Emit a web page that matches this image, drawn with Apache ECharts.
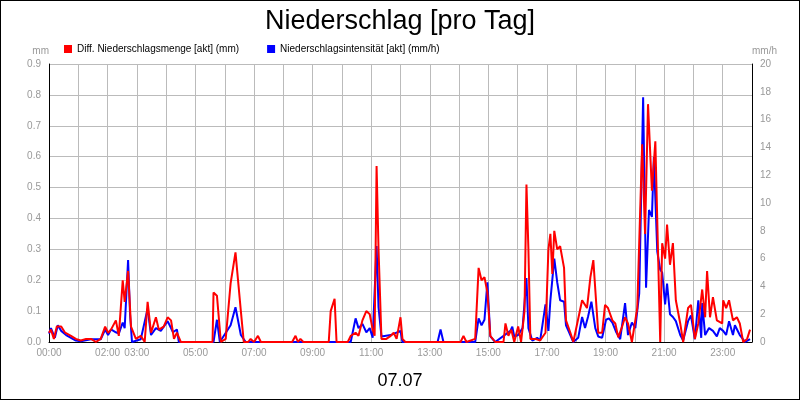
<!DOCTYPE html>
<html><head><meta charset="utf-8">
<script src="https://cdn.jsdelivr.net/npm/echarts@6/dist/echarts.min.js"></script>
<style>html,body{margin:0;padding:0;}#c{width:798px;height:398px;border:1px solid #000;background:#fff;}</style>
</head><body><div id="c"></div>
<script>
// x = minutes of day
const labelHours = [0,2,3,5,7,9,11,13,15,17,19,21,23];
const dateLabel = "07.07";
const redSeries = [[0,0.03],[4,0.04],[10,0.01],[16,0.05],[25,0.05],[33,0.03],[45,0.02],[55,0.01],[65,0.005],[76,0.01],[86,0.01],[96,0],[106,0.01],[115,0.05],[121,0.03],[127,0.04],[137,0.07],[143,0.02],[151,0.2],[155,0.13],[162,0.23],[168,0.05],[178,0.01],[188,0.02],[196,0],[202,0.13],[209,0.03],[219,0.08],[225,0.04],[235,0.05],[243,0.08],[250,0.07],[256,0.01],[262,0.03],[270,0],[335,0],[337,0.16],[344,0.15],[352,0],[362,0.01],[372,0.19],[382,0.29],[393,0.1],[399,0],[408,0],[413,0.01],[420,0],[424,0],[428,0.02],[434,0],[498,0],[505,0.02],[510,0],[515,0.01],[521,0],[573,0],[577,0.1],[585,0.14],[589,0],[612,0],[618,0.02],[628,0.03],[634,0.02],[642,0.07],[650,0.1],[657,0.09],[663,0.04],[667,0.02],[671,0.57],[675,0.3],[681,0.01],[691,0.01],[700,0.02],[706,0.03],[712,0.01],[720,0.08],[724,0.01],[730,0],[843,0],[849,0.02],[855,0],[873,0.01],[880,0.24],[886,0.2],[892,0.21],[898,0.16],[904,0.02],[914,0],[931,0],[935,0.06],[941,0.02],[947,0.04],[953,0],[961,0.05],[967,0],[974,0.1],[978,0.51],[982,0.3],[986,0.01],[996,0.01],[1006,0.005],[1017,0.03],[1023,0.3],[1027,0.35],[1031,0.22],[1035,0.36],[1041,0.3],[1047,0.31],[1055,0.24],[1059,0.07],[1068,0.03],[1074,0],[1092,0.135],[1102,0.11],[1109,0.21],[1115,0.265],[1119,0.17],[1125,0.03],[1133,0.03],[1139,0.12],[1145,0.11],[1154,0.07],[1160,0.06],[1166,0.015],[1174,0.05],[1180,0.08],[1186,0.06],[1194,0],[1205,0.11],[1215,0.64],[1221,0.35],[1227,0.77],[1235,0.49],[1242,0.65],[1252,0],[1256,0.32],[1262,0.27],[1266,0.38],[1272,0.25],[1278,0.32],[1284,0.135],[1293,0.06],[1299,0],[1309,0.11],[1315,0.12],[1323,0.01],[1330,0.06],[1338,0.17],[1344,0.08],[1348,0.23],[1354,0.08],[1360,0.145],[1368,0.07],[1379,0.06],[1381,0.135],[1387,0.11],[1393,0.135],[1401,0.07],[1409,0.08],[1415,0.06],[1422,0],[1430,0.01],[1436,0.04]];
const blueSeries = [[0,0.6],[4,1.0],[12,0.3],[18,1.2],[25,0.8],[35,0.5],[45,0.3],[55,0.1],[65,0.05],[86,0.2],[106,0.2],[115,0.9],[121,0.5],[127,0.9],[137,0.7],[143,0.6],[151,1.4],[155,1.0],[162,5.9],[166,2.0],[170,0],[188,0.2],[202,2.4],[209,0.5],[219,1.0],[229,0.8],[243,1.5],[254,0.7],[262,0.9],[266,0],[337,0],[344,1.6],[350,0],[372,1.2],[382,2.5],[393,0.5],[403,0],[618,0],[628,1.7],[634,1.0],[642,1.3],[650,0.7],[657,1.0],[663,0.3],[671,6.9],[675,2.5],[681,0.4],[700,0.5],[720,0.8],[724,0],[796,0],[802,0.9],[808,0],[873,0],[880,1.7],[886,1.2],[892,1.6],[898,4.3],[904,0.4],[914,0],[945,0.8],[949,1.1],[953,0.4],[961,0.5],[970,1.0],[978,4.6],[982,1.0],[990,0.1],[1000,0.3],[1006,0.1],[1017,2.7],[1023,0.8],[1027,3.0],[1035,6.0],[1041,4.3],[1047,3.0],[1055,2.9],[1059,1.2],[1064,0.8],[1074,0],[1084,0.3],[1092,1.8],[1098,1.0],[1104,1.8],[1111,2.9],[1119,1.0],[1125,0.4],[1133,0.3],[1141,1.6],[1147,1.7],[1154,1.4],[1162,0.7],[1170,0.2],[1180,2.8],[1186,0.5],[1194,1.4],[1201,1.0],[1209,3.5],[1217,17.6],[1223,3.9],[1229,9.5],[1235,9.0],[1239,13.3],[1246,6.5],[1252,5.2],[1256,5.0],[1262,2.7],[1266,4.2],[1272,2.0],[1278,1.8],[1284,1.5],[1293,0.5],[1299,0.1],[1309,1.5],[1315,1.9],[1323,0.2],[1330,3.0],[1336,0.3],[1338,2.8],[1344,0.5],[1352,1.0],[1360,0.8],[1368,0.4],[1374,1.0],[1381,0.8],[1387,0.5],[1393,1.5],[1401,0.5],[1405,1.2],[1415,0.5],[1426,0],[1436,0.2]];

const ch = echarts.init(document.getElementById('c'));
const F = 'Liberation Sans, Arial, sans-serif';
const grid = '#bbbbbb';
ch.setOption({
  animation:false,
  textStyle:{fontFamily:F},
  title:[{text:'Niederschlag [pro Tag]',left:'center',top:2,textStyle:{fontSize:27,fontWeight:'normal',color:'#000',fontFamily:F}},
         {text:dateLabel,left:'center',top:366,textStyle:{fontSize:18,fontWeight:'normal',color:'#000',fontFamily:F}}],
  legend:{left:58,top:38,itemWidth:8,itemHeight:8,itemGap:28,icon:'rect',textStyle:{fontSize:10,color:'#000'},
    data:['Diff. Niederschlagsmenge [akt] (mm)','Niederschlagsintensität [akt] (mm/h)']},
  grid:{left:48,right:47,top:63,bottom:57},
  xAxis:{type:'value',min:0,max:1440,interval:60,
    axisLine:{lineStyle:{color:'#000'}},axisTick:{show:false},
    splitLine:{show:true,lineStyle:{color:grid,width:1}},
    axisLabel:{fontSize:10,color:'#999',margin:6,showMaxLabel:false,
      formatter:v=>{const h=v/60;return labelHours.includes(h)?String(h).padStart(2,'0')+':00':'';}}},
  yAxis:[{type:'value',min:0,max:0.9,interval:0.1,name:'mm',nameGap:8,nameTextStyle:{color:'#999',fontSize:10,align:'right'},
    axisLine:{show:true,lineStyle:{color:'#000'}},axisTick:{show:false},
    splitLine:{lineStyle:{color:grid}},axisLabel:{fontSize:10,color:'#999',formatter:v=>v===0?'0.0':String(+v.toFixed(1))}},
    {type:'value',min:0,max:20,interval:2,name:'mm/h',nameGap:8,nameTextStyle:{color:'#999',fontSize:10,align:'left'},
    axisLine:{show:true,lineStyle:{color:'#000'}},axisTick:{show:false},
    splitLine:{show:false},axisLabel:{fontSize:10,color:'#999'}}],
  series:[
    {name:'Diff. Niederschlagsmenge [akt] (mm)',type:'line',yAxisIndex:0,data:redSeries,showSymbol:false,
      lineStyle:{color:'#ff0000',width:2},itemStyle:{color:'#ff0000'},z:2},
    {name:'Niederschlagsintensität [akt] (mm/h)',type:'line',yAxisIndex:1,data:blueSeries,showSymbol:false,
      lineStyle:{color:'#0000ff',width:2},itemStyle:{color:'#0000ff'},z:1}
  ]
});
</script></body></html>
